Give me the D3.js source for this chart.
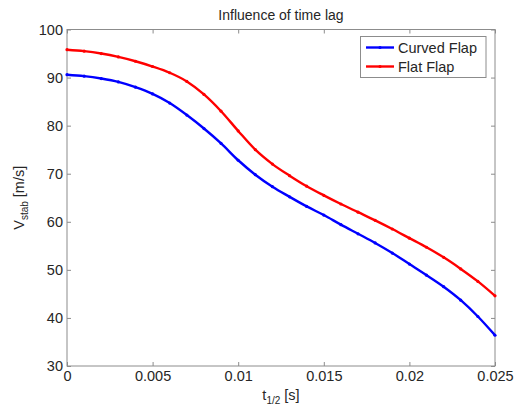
<!DOCTYPE html>
<html>
<head>
<meta charset="utf-8">
<script src="https://cdn.jsdelivr.net/npm/d3@7"></script>
<style>
  body { margin: 0; background: #fff; }
  text { font-family: "Liberation Sans", Arial, sans-serif; fill: #262626; }
</style>
</head>
<body>
<script>
// time lag values [s]
let tValues = [0, 0.001, 0.002, 0.003, 0.004, 0.005, 0.006, 0.007, 0.008, 0.009,
               0.010, 0.011, 0.012, 0.013, 0.014, 0.015, 0.016, 0.017, 0.018, 0.019,
               0.020, 0.021, 0.022, 0.023, 0.024, 0.025];
// V_stab [m/s] per flap type
let curvedFlap = [90.6, 90.3, 89.8, 89.1, 88.0, 86.6, 84.7, 82.2, 79.4, 76.3,
                  72.8, 69.8, 67.3, 65.2, 63.2, 61.4, 59.4, 57.5, 55.6, 53.5,
                  51.2, 48.9, 46.5, 43.7, 40.3, 36.4];
let flatFlap   = [95.8, 95.5, 95.0, 94.3, 93.4, 92.3, 91.0, 89.2, 86.5, 83.0,
                  78.9, 75.0, 72.0, 69.6, 67.4, 65.5, 63.7, 62.0, 60.3, 58.5,
                  56.6, 54.7, 52.6, 50.2, 47.6, 44.6];
let seriesNames = ["Curved Flap", "Flat Flap"];
let seriesColors = ["#0000ff", "#ff0000"];
let xTicks = [0, 0.005, 0.01, 0.015, 0.02, 0.025];
let yTicks = [30, 40, 50, 60, 70, 80, 90, 100];

let width = 515, height = 410;
let plot = { left: 67, top: 29.5, right: 495, bottom: 366 };

let xScale = d3.scaleLinear().domain([0, 0.025]).range([plot.left, plot.right]);
let yScale = d3.scaleLinear().domain([30, 100]).range([plot.bottom, plot.top]);

let svg = d3.select("body").append("svg")
    .attr("width", width)
    .attr("height", height);

// axes, ticks pointing inward, on all four sides (box on)
let axisColor = "#8c8c8c";
function styleAxis(g) {
  g.select(".domain").remove();
  g.selectAll(".tick line").attr("stroke", axisColor);
  g.selectAll(".tick text").style("font-size", "14.5px").attr("fill", "#262626");
}

let fmtX = d => d === 0 ? "0" : String(d);

svg.append("g")
    .attr("transform", `translate(0,${plot.bottom})`)
    .call(d3.axisBottom(xScale).tickValues(xTicks).tickFormat(fmtX).tickSizeInner(-4).tickSizeOuter(0).tickPadding(5))
    .call(styleAxis);
svg.append("g")
    .attr("transform", `translate(0,${plot.top})`)
    .call(d3.axisTop(xScale).tickValues(xTicks).tickFormat("").tickSizeInner(-4).tickSizeOuter(0))
    .call(styleAxis);
svg.append("g")
    .attr("transform", `translate(${plot.left},0)`)
    .call(d3.axisLeft(yScale).tickValues(yTicks).tickFormat(d3.format("d")).tickSizeInner(-4).tickSizeOuter(0).tickPadding(4))
    .call(styleAxis);
svg.append("g")
    .attr("transform", `translate(${plot.right},0)`)
    .call(d3.axisRight(yScale).tickValues(yTicks).tickFormat("").tickSizeInner(-4).tickSizeOuter(0))
    .call(styleAxis);

// box
svg.append("rect")
    .attr("x", plot.left).attr("y", plot.top)
    .attr("width", plot.right - plot.left).attr("height", plot.bottom - plot.top)
    .attr("fill", "none").attr("stroke", axisColor).attr("stroke-width", 1);

// lines
let allSeries = [curvedFlap, flatFlap];
let line = d3.line()
    .x((d, i) => xScale(tValues[i]))
    .y(d => yScale(d))
    .curve(d3.curveMonotoneX);

allSeries.forEach(function(vals, k) {
  svg.append("path")
      .attr("d", line(vals))
      .attr("fill", "none")
      .attr("stroke", seriesColors[k])
      .attr("stroke-width", 2.4);
  svg.append("g").selectAll("circle")
      .data(vals)
      .enter().append("circle")
      .attr("cx", (d, i) => xScale(tValues[i]))
      .attr("cy", d => yScale(d))
      .attr("r", 1.6)
      .attr("fill", seriesColors[k]);
});

// title
svg.append("text")
    .attr("x", (plot.left + plot.right) / 2)
    .attr("y", 20)
    .attr("text-anchor", "middle")
    .style("font-size", "14px")
    .text("Influence of time lag");

// x label
let xl = svg.append("text")
    .attr("x", (plot.left + plot.right) / 2)
    .attr("y", 400)
    .attr("text-anchor", "middle")
    .style("font-size", "14.5px");
xl.append("tspan").text("t");
xl.append("tspan").attr("dy", 4).style("font-size", "10px").text("1/2");
xl.append("tspan").attr("dy", -4).text(" [s]");

// y label
let yl = svg.append("text")
    .attr("transform", `translate(24,${(plot.top + plot.bottom) / 2}) rotate(-90)`)
    .attr("text-anchor", "middle")
    .style("font-size", "14.5px");
yl.append("tspan").text("V");
yl.append("tspan").attr("dy", 4).style("font-size", "10px").text("stab");
yl.append("tspan").attr("dy", -4).text(" [m/s]");

// legend
let legend = svg.append("g");
legend.append("rect")
    .attr("x", 360.5).attr("y", 36.5)
    .attr("width", 125.5).attr("height", 41)
    .attr("fill", "#fff").attr("stroke", axisColor);
seriesNames.forEach(function(name, k) {
  let ly = 47.5 + k * 19;
  legend.append("line")
      .attr("x1", 366).attr("x2", 394)
      .attr("y1", ly).attr("y2", ly)
      .attr("stroke", seriesColors[k]).attr("stroke-width", 2.4);
  legend.append("circle")
      .attr("cx", 380).attr("cy", ly).attr("r", 1.6)
      .attr("fill", seriesColors[k]);
  legend.append("text")
      .attr("x", 398).attr("y", ly + 5)
      .style("font-size", "14.5px")
      .text(name);
});
</script>
</body>
</html>
